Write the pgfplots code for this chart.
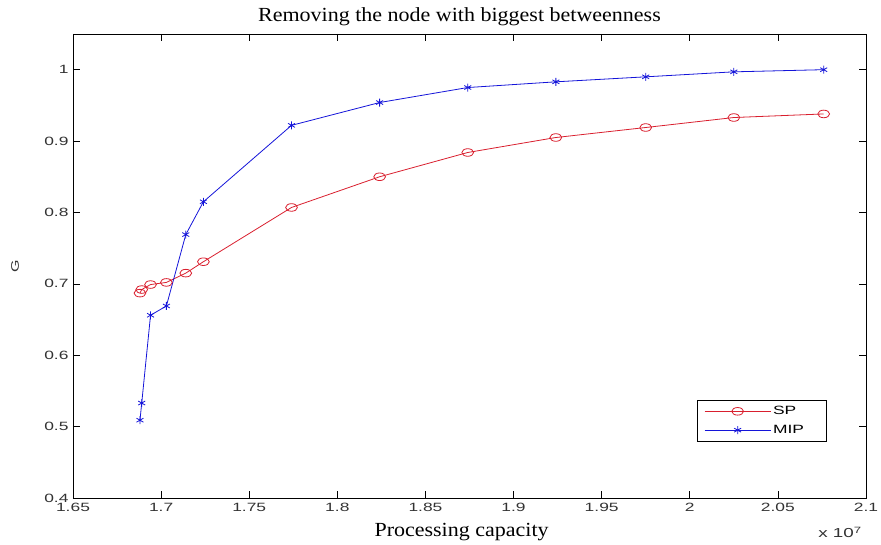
\documentclass[border=0pt]{standalone}
\usepackage{fontspec}
\setmainfont{Liberation Sans}[FakeStretch=1.45]
\newfontfamily\serif{Liberation Serif}[FakeStretch=1.1]
\usepackage{pgfplots}
\pgfplotsset{compat=1.18}

\definecolor{spred}{rgb}{0.85,0.12,0.18}
\definecolor{mipblue}{rgb}{0.08,0.08,0.85}

\begin{document}
\begin{tikzpicture}
\begin{axis}[
    at={(0,0)}, anchor=south west,
    scale only axis,
    width=793pt, height=464pt,
    xmin=1.65, xmax=2.1,
    ymin=0.4, ymax=1.05,
    xtick={1.65,1.7,...,2.1},
    ytick={0.4,0.5,...,1.0},
    tick align=inside,
    major tick length=7pt,
    tick style={black, line width=0.6pt},
    axis line style={black, line width=0.9pt},
    /pgf/number format/assume math mode=true,
    tick label style={font=\fontsize{12}{14}\selectfont, color=black!80},
    xticklabel style={yshift=-2pt},
    yticklabel style={xshift=-1pt},
    title={\serif\fontsize{20}{24}\selectfont Removing the node with biggest betweenness},
    title style={at={(rel axis cs:0.5,1)}, anchor=base, yshift=6pt, xshift=-10pt},
    xlabel={\serif\fontsize{20}{24}\selectfont Processing capacity},
    every axis x label/.style={at={(rel axis cs:0.49,0)}, anchor=center, yshift=-34pt},
    ylabel={G},
    every axis y label/.style={at={(rel axis cs:0,0.5)}, xshift=-58pt, rotate=90, anchor=center, font=\fontsize{11}{13}\selectfont, color=black!80},
    legend style={at={(rel axis cs:0.950,0.211)}, anchor=north east,
        font=\fontsize{12}{14}\selectfont, draw=black, line width=0.6pt,
        inner xsep=7pt, inner ysep=4pt, row sep=5pt,
        nodes={text width=44pt}},
    legend cell align=left,
    legend image code/.code={
        \draw[mark repeat=2, mark phase=2, #1] plot coordinates {(0pt,0pt) (33pt,0pt) (66pt,0pt)};
    },
]
\addplot[color=spred, line width=0.8pt, mark=o, mark size=3.8pt, mark options={xscale=1.55, line width=0.8pt}]
coordinates {
(1.688,0.687) (1.689,0.692) (1.694,0.699) (1.703,0.702) (1.714,0.715)
(1.724,0.731) (1.774,0.807) (1.824,0.850) (1.874,0.884) (1.924,0.905)
(1.975,0.919) (2.025,0.933) (2.076,0.938)
};
\addlegendentry{SP}
\addplot[color=mipblue, line width=0.8pt, mark=asterisk, mark size=4pt, mark options={line width=0.8pt}]
coordinates {
(1.688,0.509) (1.689,0.533) (1.694,0.656) (1.703,0.669) (1.714,0.769)
(1.724,0.815) (1.774,0.922) (1.824,0.954) (1.874,0.975) (1.924,0.983)
(1.975,0.990) (2.025,0.997) (2.076,1.000)
};
\addlegendentry{MIP}
\end{axis}
\node[anchor=north east, font=\fontsize{13}{15}\selectfont, color=black!80, inner sep=0pt]
    at (789pt,-29pt) {x 10\textsuperscript{7}};
\pgfresetboundingbox
\path[use as bounding box] (-73pt,-47pt) rectangle (808pt,498pt);
\end{tikzpicture}
\end{document}
